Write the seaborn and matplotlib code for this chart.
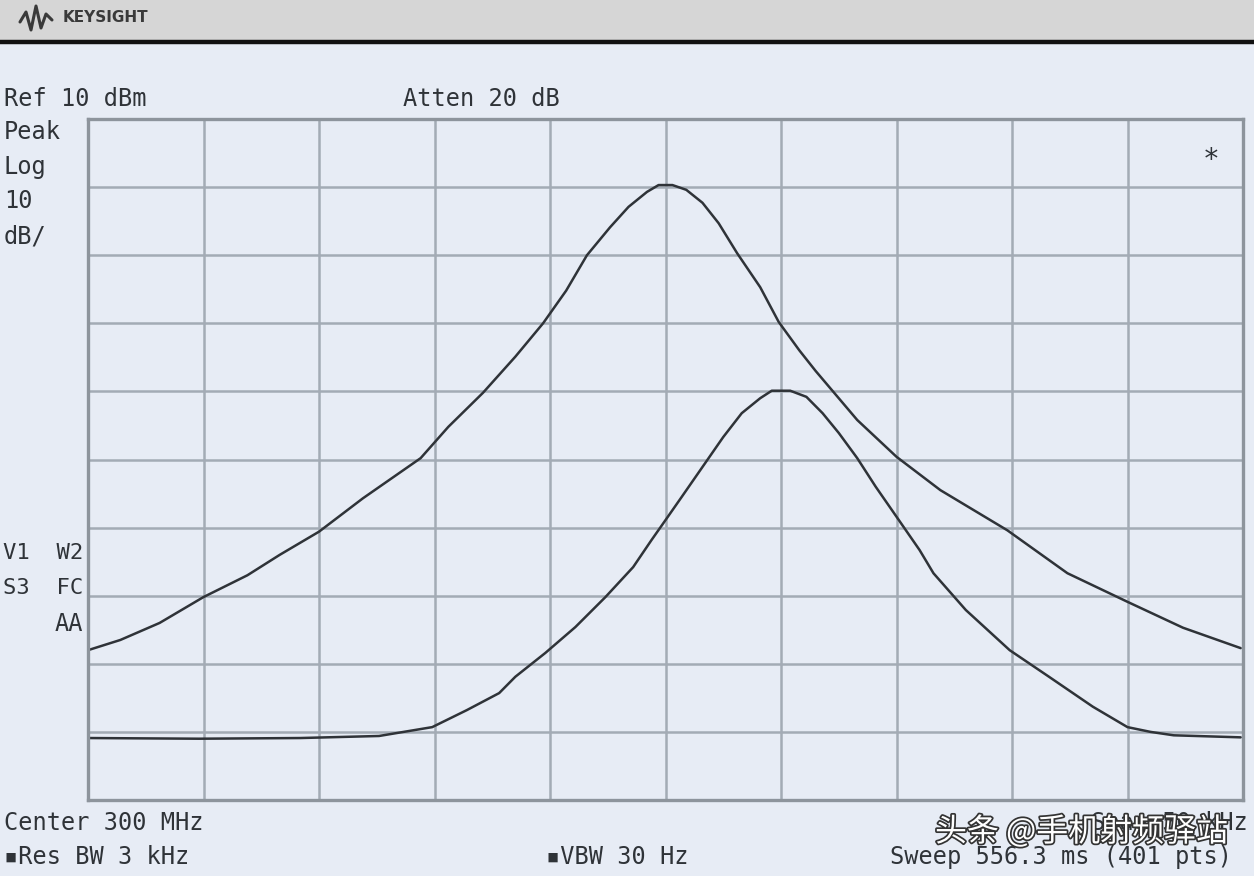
import numpy as np
import pandas as pd
import matplotlib
matplotlib.use("Agg")
import matplotlib.pyplot as plt
import matplotlib.patheffects as pe
from matplotlib.lines import Line2D
from matplotlib.patches import Rectangle
import seaborn as sns

# Trace values: offset from 300 MHz (kHz) and level (dBm)
wide_khz = [-25.0, -23.6, -21.9, -20.0, -18.1, -16.7, -15.0, -13.1, -10.6, -9.4,
            -7.9, -6.5, -5.3, -4.3, -3.4, -2.4, -1.6, -0.8, -0.3, 0.3,
            0.9, 1.6, 2.3, 3.1, 4.1, 4.9, 5.8, 6.5, 7.2, 8.3,
            10.0, 11.9, 14.8, 17.4, 20.0, 22.4, 24.9]
wide_dbm = [-68.0, -66.5, -64.0, -60.2, -57.0, -54.0, -50.6, -45.7, -39.8, -35.2,
            -30.2, -24.9, -20.0, -15.2, -10.0, -5.9, -2.9, -0.7, 0.3, 0.3,
            -0.4, -2.3, -5.3, -9.7, -14.7, -19.8, -24.0, -27.0, -29.8, -34.2,
            -39.6, -44.5, -50.4, -56.7, -60.9, -64.7, -67.7]

narrow_khz = [-25.0, -20.2, -15.8, -12.4, -10.1, -8.6, -7.2, -6.5, -5.2, -3.9,
              -2.6, -1.4, -0.6, 0.0, 0.7, 1.6, 2.5, 3.3, 4.1, 4.6,
              5.4, 6.1, 6.8, 7.5, 8.3, 9.1, 10.0, 11.0, 11.6, 13.0,
              14.9, 16.6, 18.5, 20.0, 21.0, 22.0, 24.9]
narrow_dbm = [-80.9, -81.0, -80.9, -80.6, -79.3, -76.8, -74.3, -71.9, -68.4, -64.6,
              -60.2, -55.8, -51.8, -48.9, -45.5, -41.1, -36.7, -33.2, -31.0, -29.9,
              -29.9, -30.8, -33.2, -36.1, -39.8, -44.0, -48.4, -53.3, -56.7, -62.1,
              -68.0, -71.9, -76.3, -79.3, -80.0, -80.5, -80.8]

ref_level = 10
db_per_div = 10
span_khz = 50

wide = pd.DataFrame({"f": wide_khz, "level": wide_dbm, "trace": "wide"})
narrow = pd.DataFrame({"f": narrow_khz, "level": narrow_dbm, "trace": "narrow"})
traces = pd.concat([wide, narrow], ignore_index=True)

sns.set_style("whitegrid")
plt.rcParams["font.family"] = ["DejaVu Sans Mono", "Noto Sans CJK SC"]

screen = "#e7ecf5"
grid_col = "#a3abb5"
ink = "#2f3338"

fig = plt.figure(figsize=(12.54, 8.76), dpi=100)
fig.patch.set_facecolor(screen)

# header band with logo
fig.patches.append(Rectangle((0, 1 - 40 / 876), 1, 40 / 876, transform=fig.transFigure,
                             facecolor="#d6d6d6", edgecolor="none", zorder=0))
fig.lines.append(Line2D([0, 1], [1 - 42 / 876] * 2, transform=fig.transFigure,
                        color="#111111", lw=3.2))
fig.lines.append(Line2D([20 / 1254, 26 / 1254, 31 / 1254, 36 / 1254, 41 / 1254, 46 / 1254, 52 / 1254],
                        [1 - 22 / 876, 1 - 12 / 876, 1 - 30 / 876, 1 - 6 / 876, 1 - 28 / 876,
                         1 - 14 / 876, 1 - 20 / 876],
                        transform=fig.transFigure, color="#3a3a3a", lw=2.2))
fig.text(63 / 1254, 1 - 18 / 876, "KEYSIGHT", fontsize=11, fontweight="bold",
         family="DejaVu Sans", color="#3a3a3a", va="center", ha="left")

ax = fig.add_axes([88 / 1254, 1 - 800 / 876, (1243 - 88) / 1254, (800 - 119) / 876])
ax.set_facecolor(screen)

sns.lineplot(data=traces, x="f", y="level", units="trace", estimator=None,
             color=ink, lw=1.8, ax=ax, sort=False)

ax.set_xlim(-span_khz / 2, span_khz / 2)
ax.set_ylim(ref_level - 10 * db_per_div, ref_level)
ax.set_xticks(np.linspace(-span_khz / 2, span_khz / 2, 11))
ax.set_yticks(np.arange(ref_level - 10 * db_per_div, ref_level + 1, db_per_div))
ax.tick_params(labelbottom=False, labelleft=False, length=0)
ax.set_xlabel("")
ax.set_ylabel("")
ax.grid(True, color=grid_col, lw=1.8)
for s in ax.spines.values():
    s.set_visible(True)
    s.set_color("#8d949c")
    s.set_linewidth(2.4)

ax.text(0.972, 0.94, "*", transform=ax.transAxes, fontsize=20, color=ink,
        ha="center", va="center")


def px(x, y, s, **kw):
    kw.setdefault("fontsize", 17)
    kw.setdefault("color", ink)
    kw.setdefault("va", "center")
    fig.text(x / 1254, 1 - y / 876, s, **kw)


px(4, 99, "Ref 10 dBm")
px(403, 99, "Atten 20 dB")
px(4, 132, "Peak")
px(4, 167, "Log")
px(4, 201, "10")
px(4, 236, "dB/")
px(83, 553, "V1  W2", ha="right", fontsize=16)
px(83, 588, "S3  FC", ha="right", fontsize=16)
px(83, 624, "AA", ha="right")
px(4, 823, "Center 300 MHz")
px(4, 857, "\u25aaRes BW 3 kHz")
px(546, 857, "\u25aaVBW 30 Hz")
px(1248, 823, "Span 50 kHz", ha="right")
px(1232, 857, "Sweep 556.3 ms (401 pts)", ha="right")

fig.text(935 / 1254, 1 - 832 / 876, "头条 @手机射频驿站", fontsize=23,
         family=["Noto Sans CJK SC", "DejaVu Sans"], color="white", va="center", ha="left",
         path_effects=[pe.withStroke(linewidth=2.5, foreground="#333333")])

fig.savefig("out.png", dpi=100, facecolor=fig.get_facecolor())
